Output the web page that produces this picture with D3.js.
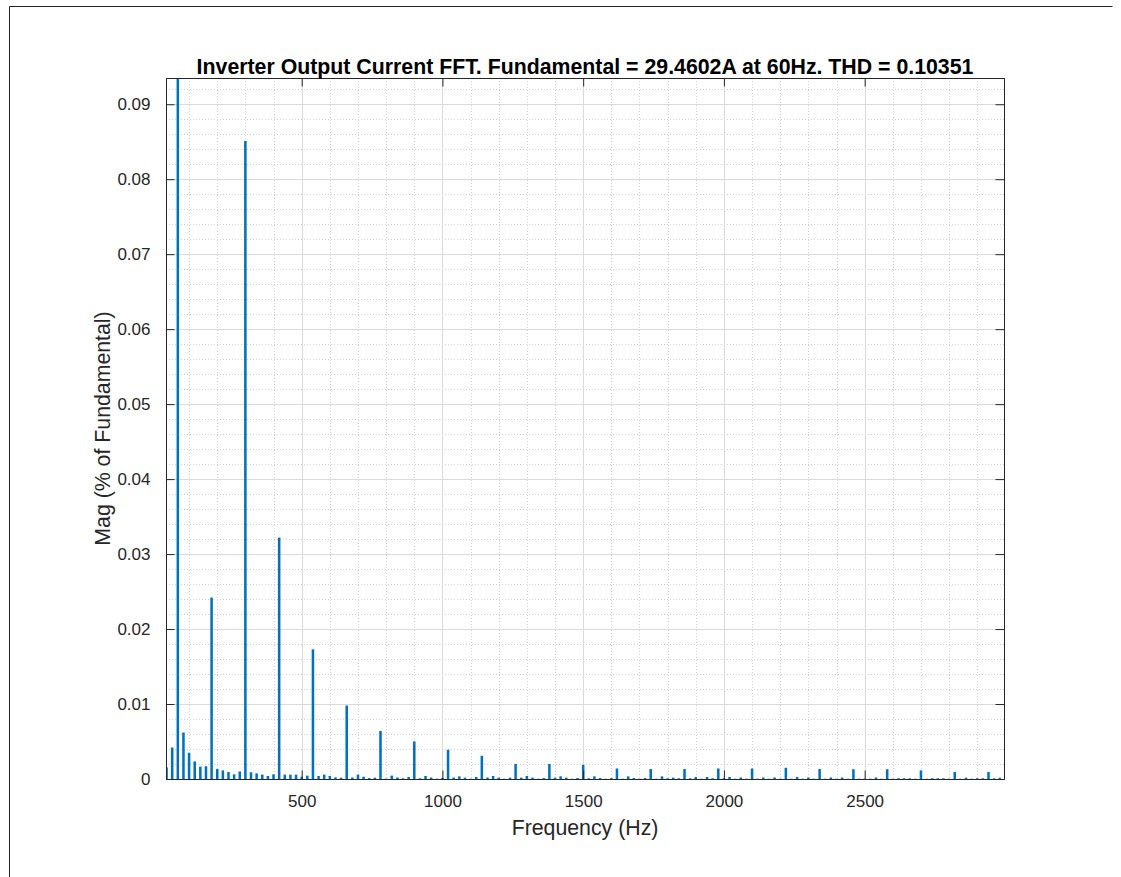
<!DOCTYPE html>
<html>
<head>
<meta charset="utf-8">
<script src="https://cdn.jsdelivr.net/npm/d3@7"></script>
<style>
  html, body { margin: 0; padding: 0; background: #ffffff; }
  svg { display: block; font-family: "Liberation Sans", Arial, Helvetica, sans-serif; }
</style>
</head>
<body>
<svg id="chart" width="1121" height="877"></svg>
<script>
// FFT bins: one bar every 20 Hz from 20 Hz to 2980 Hz
const binStepHz = 20;
const frequencies = d3.range(20, 3000, binStepHz);

// Harmonic magnitudes relative to the fundamental (60 Hz bin = 1)
const magnitudes = [
  0.00155, 0.0042, 1.0, 0.0062, 0.0035, 0.00235, 0.00165, 0.0017, 0.0242, 0.00133,
  0.00115, 0.00093, 0.00062, 0.001, 0.0851, 0.0009, 0.00075, 0.00058, 0.0004, 0.00062,
  0.0322, 0.00058, 0.00058, 0.00058, 0.0003, 0.00045, 0.0173, 0.0004, 0.00058, 0.0004,
  0.00022, 0.00018, 0.0098, 0.0002, 0.00058, 0.0003, 0.00013, 0.00018, 0.0064, 0.00005,
  0.00045, 0.0002, 0.0001, 0.00027, 0.005, 0.0001, 0.0004, 0.0002, 0.00005, 0.00015,
  0.0039, 0.0002, 0.00035, 0.00018, 0.00004, 0.00027, 0.0031, 0.0002, 0.0004, 0.00018,
  0.00004, 0.00018, 0.002, 0.00018, 0.0004, 0.00018, 0.00004, 0.00013, 0.002, 0.00018,
  0.00035, 0.00018, 0.00004, 0.00013, 0.0019, 0.0001, 0.00035, 0.00013, 0.00004, 0.00013,
  0.0014, 0.00004, 0.00035, 0.00013, 0.00004, 0.00013, 0.00133, 0.00004, 0.00035, 0.0001,
  0.00018, 0.0001, 0.00133, 0.0001, 0.00027, 0.00004, 0.00027, 0.0001, 0.0014, 0.0001,
  0.00027, 0.00004, 0.0002, 0.00004, 0.0014, 0.00004, 0.0002, 0.00004, 0.0002, 0.00004,
  0.0015, 0.00004, 0.00027, 0.00004, 0.0002, 0.00004, 0.00133, 0.00004, 0.0002, 0.00004,
  0.0002, 0.00004, 0.0013, 0.00004, 0.00004, 0.00004, 0.0002, 0.00004, 0.0013, 0.00004,
  0.0001, 0.0001, 0.0001, 0.00004, 0.00115, 0.00004, 0.0001, 0.0001, 0.0001, 0.00004,
  0.00093, 0.00004, 0.00018, 0.00004, 0.0001, 0.0001, 0.00093, 0.0001, 0.00018
];

const xTicks = [500, 1000, 1500, 2000, 2500];
const xMinorTicks = d3.range(100, 3000, 100);
const yTicks = [0, 0.01, 0.02, 0.03, 0.04, 0.05, 0.06, 0.07, 0.08, 0.09];
const yMinorTicks = d3.range(0, 0.0935, 0.002);
const xDomain = [18, 2995];
const yDomain = [0, 0.0935];

const titleText = "Inverter Output Current FFT. Fundamental = 29.4602A at 60Hz. THD = 0.10351";
const xLabelText = "Frequency (Hz)";
const yLabelText = "Mag (% of Fundamental)";

const bins = frequencies.map((f, i) => ({ f, v: magnitudes[i] }));

const svg = d3.select("#chart");
const W = 1121, H = 877;
const margin = { left: 166, top: 78, right: W - 1004, bottom: H - 779 };
const pw = W - margin.left - margin.right;
const ph = H - margin.top - margin.bottom;

const axisColor = "#262626";
const barColor = "#0072BD";

// figure frame
svg.append("path")
  .attr("d", `M9.5,${H}V6.5H1112.5`)
  .attr("fill", "none").attr("stroke", "#222").attr("stroke-width", 1);

const x = d3.scaleLinear().domain(xDomain).range([0, pw]);
const y = d3.scaleLinear().domain(yDomain).range([ph, 0]);

const g = svg.append("g").attr("transform", `translate(${margin.left},${margin.top})`);

g.append("defs").append("clipPath").attr("id", "plotClip")
  .append("rect").attr("width", pw).attr("height", ph);

// minor grid (dotted)
const minorG = g.append("g").attr("stroke", "#d0d0d0").attr("stroke-width", 1)
  .attr("stroke-dasharray", "1,2");
minorG.selectAll("line.mx").data(xMinorTicks.filter(v => v % 500 !== 0 && v > xDomain[0] && v < xDomain[1]))
  .join("line").attr("class", "mx")
  .attr("x1", d => Math.round(x(d)) + 0.5).attr("x2", d => Math.round(x(d)) + 0.5)
  .attr("y1", 0).attr("y2", ph);
minorG.selectAll("line.my").data(yMinorTicks.filter(v => Math.abs(v / 0.01 - Math.round(v / 0.01)) > 1e-6))
  .join("line").attr("class", "my")
  .attr("y1", d => Math.round(y(d)) + 0.5).attr("y2", d => Math.round(y(d)) + 0.5)
  .attr("x1", 0).attr("x2", pw);

// major grid
const majorG = g.append("g").attr("stroke", "#dadada").attr("stroke-width", 1);
majorG.selectAll("line.gx").data(xTicks).join("line").attr("class", "gx")
  .attr("x1", d => Math.round(x(d)) + 0.5).attr("x2", d => Math.round(x(d)) + 0.5)
  .attr("y1", 0).attr("y2", ph);
majorG.selectAll("line.gy").data(yTicks.slice(1)).join("line").attr("class", "gy")
  .attr("y1", d => Math.round(y(d)) + 0.5).attr("y2", d => Math.round(y(d)) + 0.5)
  .attr("x1", 0).attr("x2", pw);

// bars
const barW = x(xDomain[0] + binStepHz * 0.45) - x(xDomain[0]);
g.append("g").attr("clip-path", "url(#plotClip)")
  .selectAll("rect").data(bins).join("rect")
  .attr("x", d => x(d.f) - barW / 2)
  .attr("width", barW)
  .attr("y", d => y(d.v))
  .attr("height", d => y(0) - y(d.v))
  .attr("fill", barColor);

// axes (MATLAB box style: ticks inside on all four sides)
const tickLen = 8.5;
const xAxisB = d3.axisBottom(x).tickValues(xTicks).tickSize(-tickLen).tickPadding(tickLen + 7)
  .tickFormat(d3.format("d"));
const xAxisT = d3.axisTop(x).tickValues(xTicks).tickSize(-tickLen).tickFormat("");
const yAxisL = d3.axisLeft(y).tickValues(yTicks).tickSize(-tickLen).tickPadding(tickLen + 7)
  .tickFormat(d => d === 0 ? "0" : d3.format(".2f")(d));
const yAxisR = d3.axisRight(y).tickValues(yTicks).tickSize(-tickLen).tickFormat("");

function styleAxis(sel) {
  sel.selectAll("path.domain").attr("stroke", axisColor).attr("stroke-width", 1);
  sel.selectAll(".tick line").attr("stroke", axisColor).attr("stroke-width", 1);
  sel.selectAll(".tick text").attr("fill", axisColor)
    .style("font-size", "17px").style("font-family", "\"Liberation Sans\", Arial, sans-serif");
}

g.append("g").attr("transform", `translate(0,${ph})`).call(xAxisB).call(styleAxis)
  .selectAll(".tick text").attr("dy", "0.71em");
g.append("g").call(xAxisT).call(styleAxis);
g.append("g").call(yAxisL).call(styleAxis);
g.append("g").attr("transform", `translate(${pw},0)`).call(yAxisR).call(styleAxis);

// titles
svg.append("text")
  .attr("x", margin.left + pw / 2).attr("y", 74)
  .attr("text-anchor", "middle")
  .attr("fill", "#000").attr("font-weight", "bold").style("font-size", "21.3px")
  .text(titleText);

svg.append("text")
  .attr("x", margin.left + pw / 2).attr("y", 835)
  .attr("text-anchor", "middle")
  .attr("fill", axisColor).style("font-size", "21.3px")
  .text(xLabelText);

svg.append("text")
  .attr("transform", `translate(110,${margin.top + ph / 2}) rotate(-90)`)
  .attr("text-anchor", "middle")
  .attr("fill", axisColor).style("font-size", "21.3px")
  .text(yLabelText);
</script>
</body>
</html>
